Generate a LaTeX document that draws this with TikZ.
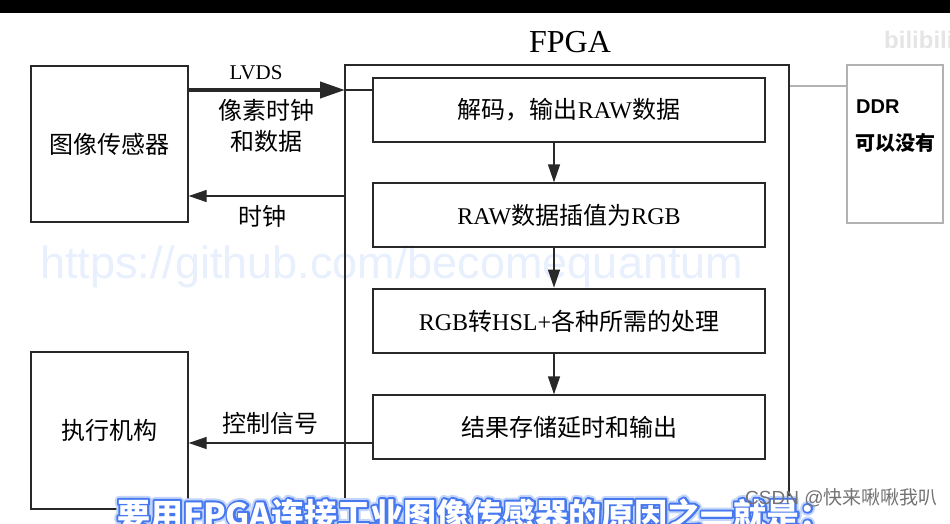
\documentclass[tikz,border=0pt]{standalone}
\usepackage{fontspec}
\setmainfont{Liberation Serif}
\newfontfamily\cjk{Noto Sans CJK SC}
\newfontfamily\sans{Liberation Sans}
\usetikzlibrary{arrows.meta}
\definecolor{wmblue}{RGB}{232,239,253}
\definecolor{subblue}{RGB}{70,120,240}
\definecolor{subglow}{RGB}{195,213,250}
\definecolor{ln}{RGB}{40,40,40}
\newcommand\strokedtext[2]{\special{pdf:literal direct 1 Tr 1 j #1 w}#2\special{pdf:literal direct 0 Tr}}
\begin{document}
\begin{tikzpicture}[x=1pt,y=-1pt,
  box/.style={draw=ln, line width=1.3pt, rectangle, inner sep=0pt},
  lbl/.style={font=\fontsize{24}{26}\selectfont, inner sep=0pt},
  arr/.style={draw=ln, line width=1.3pt, -{Triangle[length=18pt,width=12pt]}},
  subt/.style={anchor=base west, inner sep=0pt, font=\cjk\bfseries\fontsize{33}{36}\selectfont},
]
\useasboundingbox (0,0) rectangle (950,523);
\fill[white] (0,0) rectangle (950,523);
\fill[black] (0,0) rectangle (950,13);

% watermark
\node[anchor=base west, inner sep=0pt, text=wmblue, font=\sans\fontsize{45}{50}\selectfont] (wm) at (40,278) {https://github.com/becomequantum};
\node[anchor=west, inner sep=0pt, text=black!10, font=\sans\bfseries\fontsize{24}{26}\selectfont] (bili) at (884,40) {bilibili};

% title
\node[inner sep=0pt, font=\fontsize{32}{34}\selectfont] (title) at (570,42) {FPGA};

% outer boxes
\node[box, minimum width=157pt, minimum height=156pt, lbl] (sensor) at (109.5,144) {\cjk 图像传感器};
\node[box, minimum width=157pt, minimum height=157pt, lbl] (act) at (109.5,430.5) {\cjk 执行机构};
\node[box, minimum width=444pt, minimum height=444pt] (fpga) at (567,287) {};

% inner boxes
\node[box, minimum width=392pt, minimum height=64pt, lbl] (b1) at (569,110) {{\cjk 解码，输出}RAW{\cjk 数据}};
\node[box, minimum width=392pt, minimum height=64pt, lbl] (b2) at (569,215) {RAW{\cjk 数据插值为}RGB};
\node[box, line width=2.8pt, minimum width=392pt, minimum height=64pt, lbl] (b3) at (569,321) {RGB{\cjk 转}HSL+{\cjk 各种所需的处理}};
\node[box, minimum width=392pt, minimum height=64pt, lbl] (b4) at (569,427) {\cjk 结果存储延时和输出};

% DDR
\node[draw=black!30, line width=2pt, minimum width=96pt, minimum height=158pt, inner sep=0pt] (ddr) at (895,144) {};
\node[anchor=west, inner sep=0pt, font=\sans\bfseries\fontsize{20}{22}\selectfont] (ddrt) at (856,107) {DDR};
\node[anchor=west, inner sep=0pt, font=\cjk\bfseries\fontsize{20}{22}\selectfont] (ddrt2) at (855,143) {可以没有};
\draw[black!30, line width=2pt] (fpga.east |- 0,86) -- (ddr.west |- 0,86);

% LVDS
\coordinate (lv) at (345,90);
\draw[ln, line width=4pt, -{Triangle[length=25pt,width=16pt]}] (sensor.east |- lv) -- (lv);
\draw[ln, line width=1.3pt] (lv) -- (b1.west |- lv);
\node[inner sep=0pt, font=\fontsize{21}{23}\selectfont] (lvds) at (256,72.5) {LVDS};
\node[lbl] (pix1) at (266,110) {\cjk 像素时钟};
\node[lbl] (pix2) at (266,141) {\cjk 和数据};

% clock
\draw[arr] (fpga.west |- 0,196) -- (sensor.east |- 0,196);
\node[lbl] (clk) at (262,216) {\cjk 时钟};

% control
\draw[arr] (b4.west |- 0,443) -- (act.east |- 0,443);
\node[lbl] (ctl) at (270,423) {\cjk 控制信号};

% vertical flow
\draw[arr] ([xshift=-15pt]b1.south) -- ([xshift=-15pt]b2.north);
\draw[arr] ([xshift=-15pt]b2.south) -- ([xshift=-15pt]b3.north);
\draw[arr] ([xshift=-15pt]b3.south) -- ([xshift=-15pt]b4.north);

% subtitle
\node[subt, text=subglow] (sg) at (117,527) {\strokedtext{8}{要用FPGA连接工业图像传感器的原因之一就是：}};
\node[subt, text=subblue] (sb) at (117,527) {\strokedtext{4}{要用FPGA连接工业图像传感器的原因之一就是：}};
\node[subt, text=white] (sub) at (117,527) {要用FPGA连接工业图像传感器的原因之一就是：};

% CSDN watermark
\node[anchor=west, inner sep=0pt, text=black!55, font=\fontsize{19}{21}\selectfont] (csdn) at (745,498) {\sans CSDN @\cjk 快来啾啾我叭};
\end{tikzpicture}
\end{document}
